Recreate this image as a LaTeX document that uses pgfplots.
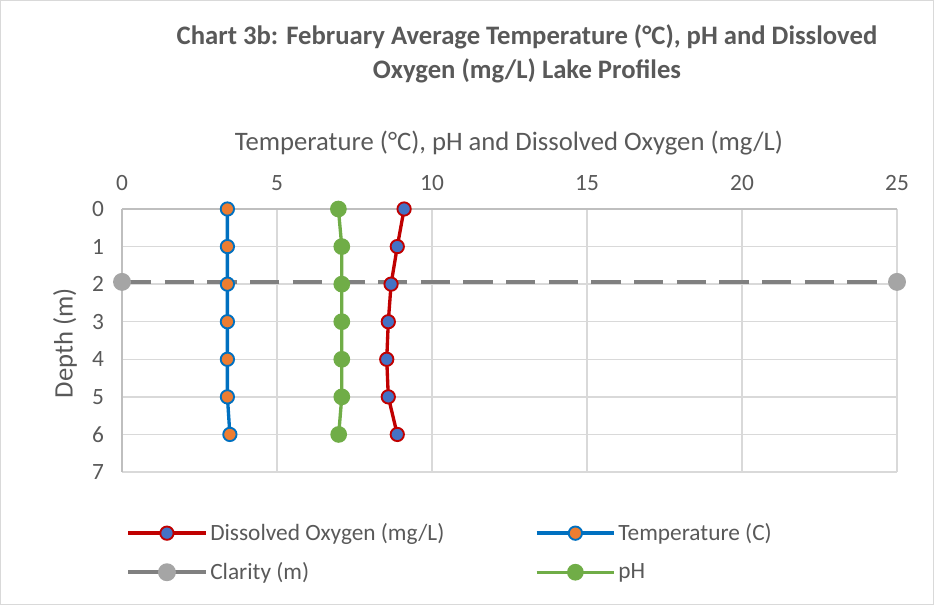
\documentclass[border=0pt]{standalone}
\usepackage{pgfplots}
\pgfplotsset{compat=1.18}
\usepackage{fontspec}
\setmainfont{Carlito}
\definecolor{txt}{HTML}{595959}
\definecolor{gridc}{HTML}{D9D9D9}
\definecolor{axc}{HTML}{BFBFBF}
\definecolor{doline}{HTML}{C00000}
\definecolor{domark}{HTML}{4472C4}
\definecolor{tline}{HTML}{0070C0}
\definecolor{tmark}{HTML}{ED7D31}
\definecolor{phc}{HTML}{70AD47}
\definecolor{clline}{HTML}{808080}
\definecolor{clmark}{HTML}{A5A5A5}
\begin{document}
\begin{tikzpicture}[x=0.75pt,y=-0.75pt]
\draw[gridc,line width=0.75pt] (0.5,0.5) rectangle (933.5,604.5);
\node[txt,font=\fontsize{20}{25}\selectfont\bfseries,align=center] at (527,54) {Chart 3b: February Average Temperature (°C), pH and Dissloved\\Oxygen (mg/L) Lake Profiles};
\node[txt,font=\fontsize{20}{24}\selectfont] at (509,143) {Temperature (°C), pH and Dissolved Oxygen (mg/L)};
\node[txt,font=\fontsize{20}{24}\selectfont,rotate=90] at (65,343) {Depth (m)};
\begin{axis}[
  at={(91.5pt,-156.75pt)}, anchor=north west,
  scale only axis, width=581.25pt, height=197.25pt,
  xmin=0, xmax=25, ymin=0, ymax=7,
  y dir=reverse,
  xtick={0,5,10,15,20,25}, ytick={0,1,2,3,4,5,6,7},
  xticklabel pos=top,
  axis x line*=top, axis y line*=left,
  axis line style={axc,line width=1pt,-},
  major tick length=0pt,
  grid=major, grid style={gridc,line width=1pt},
  tick label style={txt,font=\fontsize{17.5}{21}\selectfont},
  xticklabel style={yshift=10pt},
  yticklabel style={xshift=-10pt},
  /pgf/number format/assume math mode=true,
  legend columns=2,
  legend style={at={(0.0,-0.175)}, anchor=north west, draw=none, fill=none,
    font=\fontsize{17.5}{21}\selectfont, text=txt, row sep=11pt,
    /tikz/every even column/.append style={column sep=66pt},
    /tikz/every odd column/.append style={column sep=0pt}},
  legend cell align=left,
  legend image code/.code={\draw[mark repeat=2,mark phase=2] plot coordinates {(0pt,0pt) (29pt,0pt) (58pt,0pt)};},
]
\addplot[doline, line width=2.5pt, mark=*, mark size=5pt, mark options={solid,fill=domark,draw=doline,line width=1.4pt}]
  coordinates {(9.10,0) (8.88,1) (8.68,2) (8.59,3) (8.54,4) (8.59,5) (8.88,6)};
\addlegendentry{Dissolved Oxygen (mg/L)}
\addplot[tline, line width=2.5pt, mark=*, mark size=5pt, mark options={solid,fill=tmark,draw=tline,line width=1.4pt}]
  coordinates {(3.40,0) (3.40,1) (3.40,2) (3.40,3) (3.40,4) (3.40,5) (3.48,6)};
\addlegendentry{Temperature (C)}
\addplot[clline, line width=3pt, dash pattern=on 22pt off 10pt, mark=*, mark size=5.2pt, mark options={solid,fill=clmark,draw=clmark}, legend image post style={solid}]
  coordinates {(0,1.94) (25,1.94)};
\addlegendentry{Clarity (m)}
\addplot[phc, line width=2.5pt, mark=*, mark size=5pt, mark options={solid,fill=phc,draw=phc}]
  coordinates {(6.98,0) (7.09,1) (7.09,2) (7.09,3) (7.09,4) (7.09,5) (6.99,6)};
\addlegendentry{pH}
\end{axis}
\end{tikzpicture}
\end{document}
